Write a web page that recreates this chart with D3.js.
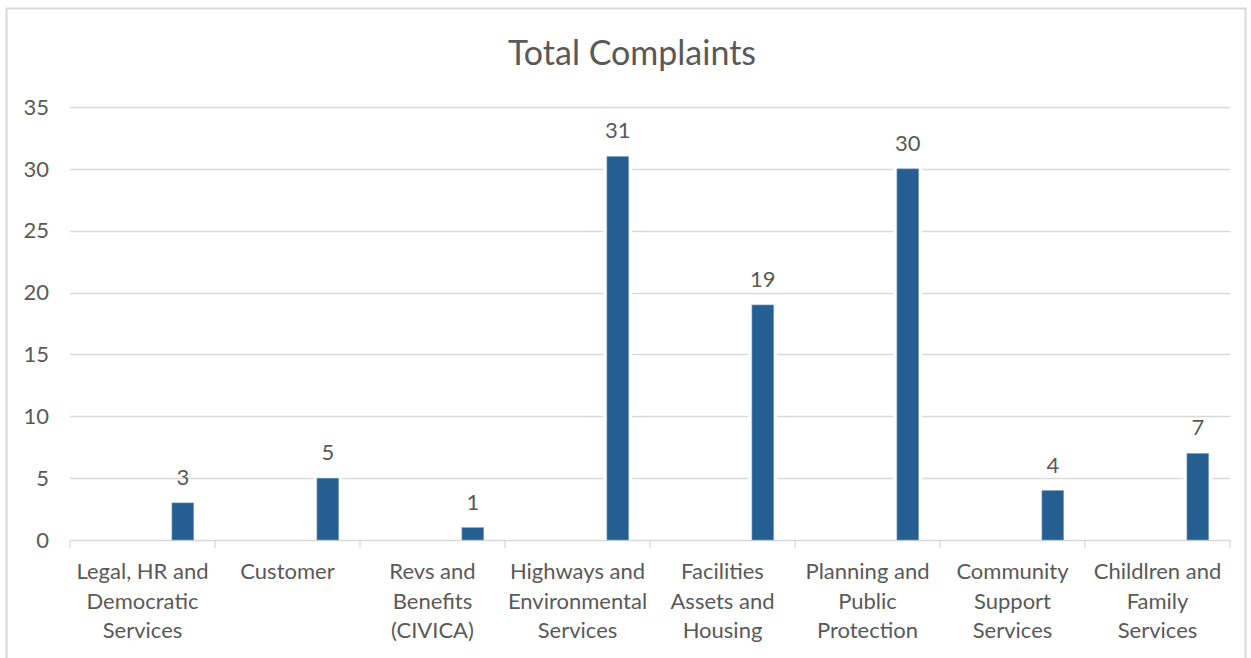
<!DOCTYPE html>
<html lang="en">
<head>
    <meta charset="UTF-8">
    <title>Total Complaints</title>
    <script src="https://d3js.org/d3.v7.min.js"></script>
    <style>
        body { margin: 0; background: #fff; }
        text { font-family: Lato, "Open Sans", sans-serif; fill: #595959; }
    </style>
</head>
<body>
    <svg id="chart" width="1251" height="658"></svg>
    <script>
        // chart data
        const categories = ["Legal, HR and Democratic Services", "Customer", "Revs and Benefits (CIVICA)",
            "Highways and Environmental Services", "Facilities Assets and Housing",
            "Planning and Public Protection", "Community Support Services", "Childlren and Family Services"];
        const tickLabels = [
            ["Legal, HR and", "Democratic", "Services"],
            ["Customer"],
            ["Revs and", "Benefits", "(CIVICA)"],
            ["Highways and", "Environmental", "Services"],
            ["Facilities", "Assets and", "Housing"],
            ["Planning and", "Public", "Protection"],
            ["Community", "Support", "Services"],
            ["Childlren and", "Family", "Services"]
        ];
        const complaints = [3, 5, 1, 31, 19, 30, 4, 7];
        const yTicks = [0, 5, 10, 15, 20, 25, 30, 35];

        const svg = d3.select("#chart");

        // outer chart border
        svg.append("rect")
            .attr("x", 6.5).attr("y", 8.5)
            .attr("width", 1239).attr("height", 660)
            .attr("fill", "none")
            .attr("stroke", "#d9d9d9")
            .attr("stroke-width", 2);

        svg.append("text")
            .attr("x", 632).attr("y", 65)
            .attr("text-anchor", "middle")
            .attr("font-size", 34)
            .text("Total Complaints");

        const x = d3.scaleBand().domain(categories).range([70, 1230]);
        const y = d3.scaleLinear().domain([0, 35]).range([540, 107]);

        // gridlines
        svg.append("g")
            .selectAll("line")
            .data(yTicks.filter(d => d > 0))
            .join("line")
            .attr("x1", 70).attr("x2", 1230)
            .attr("y1", d => Math.round(y(d)) + 0.5)
            .attr("y2", d => Math.round(y(d)) + 0.5)
            .attr("stroke", "#d9d9d9")
            .attr("stroke-width", 1.3);

        // y axis labels
        svg.append("g")
            .selectAll("text")
            .data(yTicks)
            .join("text")
            .attr("x", 49)
            .attr("y", d => y(d))
            .attr("dy", "0.35em")
            .attr("text-anchor", "end")
            .attr("font-size", 22)
            .text(d => d);

        // x axis with tick marks between categories
        const xAxis = svg.append("g");
        xAxis.append("line")
            .attr("x1", 70).attr("x2", 1230)
            .attr("y1", 540.5).attr("y2", 540.5)
            .attr("stroke", "#d9d9d9")
            .attr("stroke-width", 1.3);
        xAxis.selectAll("line.tick")
            .data(categories.concat([null]))
            .join("line")
            .attr("class", "tick")
            .attr("x1", d => d === null ? 1230 : x(d))
            .attr("x2", d => d === null ? 1230 : x(d))
            .attr("y1", 540).attr("y2", 548)
            .attr("stroke", "#d9d9d9")
            .attr("stroke-width", 1.3);

        xAxis.selectAll("text.cat")
            .data(categories)
            .join("text")
            .attr("class", "cat")
            .attr("text-anchor", "middle")
            .attr("font-size", 22)
            .each(function (d, i) {
                d3.select(this).selectAll("tspan")
                    .data(tickLabels[i])
                    .join("tspan")
                    .attr("x", x(d) + x.bandwidth() / 2)
                    .attr("y", (t, j) => 579 + j * 29.5)
                    .text(t => t);
            });

        // bars sit in the right part of each category slot
        const barOffset = x.bandwidth() * 0.703;
        const barWidth = x.bandwidth() * 0.15;

        const bars = svg.append("g");
        bars.selectAll("rect.halo")
            .data(categories)
            .join("rect")
            .attr("class", "halo")
            .attr("x", d => x(d) + barOffset - 3.5)
            .attr("width", barWidth + 7)
            .attr("y", (d, i) => y(complaints[i]) - 2)
            .attr("height", (d, i) => y(0) - y(complaints[i]) + 1)
            .attr("fill", "#fff");
        bars.selectAll("rect.bar")
            .data(categories)
            .join("rect")
            .attr("class", "bar")
            .attr("x", d => x(d) + barOffset)
            .attr("width", barWidth)
            .attr("y", (d, i) => y(complaints[i]))
            .attr("height", (d, i) => y(0) - y(complaints[i]))
            .attr("fill", "#255e91")
            .attr("stroke", "#7fa3c4")
            .attr("stroke-width", 0.6);

        // data labels
        svg.append("g")
            .selectAll("text")
            .data(categories)
            .join("text")
            .attr("x", d => x(d) + barOffset + barWidth / 2)
            .attr("y", (d, i) => y(complaints[i]) - 18)
            .attr("text-anchor", "middle")
            .attr("font-size", 22)
            .text((d, i) => complaints[i]);
    </script>
</body>
</html>
